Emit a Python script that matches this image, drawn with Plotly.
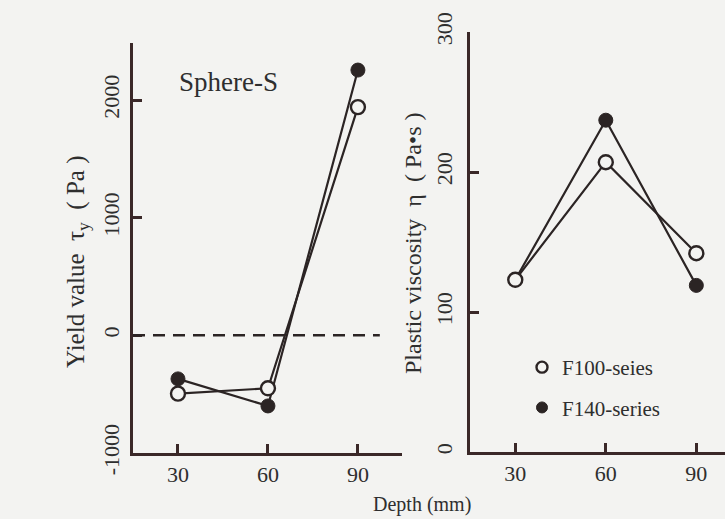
import plotly.graph_objects as go

depth = [30, 60, 90]
yield_f100 = [-495, -450, 1940]
yield_f140 = [-370, -600, 2255]
visc_f100 = [123, 207, 142]
visc_f140 = [123, 237, 119]
yield_ticks = [-1000, 0, 1000, 2000]
yield_ticktext = ["-1000", "0", "1000", "2000"]
visc_ticks = [0, 100, 200, 300]
depth_ticks = [30, 60, 90]

BG = "#f3f3f1"
INK = "#2b2424"
AX = "#3a2828"
TXT = "#2e2e2e"
FONT = "Liberation Serif, Times New Roman, serif"

W, H = 725, 519
def fx(px): return px / W
def fy(py): return 1 - py / H

fig = go.Figure()

def add_pair(xa, ya, f100, f140):
    fig.add_trace(go.Scatter(x=depth, y=f140, mode="lines+markers", xaxis=xa, yaxis=ya,
                             line=dict(color=INK, width=2.2),
                             marker=dict(symbol="circle", size=14, color=INK, line=dict(color=INK, width=1)),
                             showlegend=False))
    fig.add_trace(go.Scatter(x=depth, y=f100, mode="lines+markers", xaxis=xa, yaxis=ya,
                             line=dict(color=INK, width=2.2),
                             marker=dict(symbol="circle", size=14, color=BG, line=dict(color=INK, width=2.4)),
                             showlegend=False))

add_pair("x", "y", yield_f100, yield_f140)
add_pair("x2", "y2", visc_f100, visc_f140)

# legend proxies
fig.add_trace(go.Scatter(x=[None], y=[None], mode="markers", xaxis="x2", yaxis="y2",
                         marker=dict(symbol="circle", size=11, color=BG, line=dict(color=INK, width=2.4)),
                         name="F100-seies", legendgroup="a"))
fig.add_trace(go.Scatter(x=[None], y=[None], mode="markers", xaxis="x2", yaxis="y2",
                         marker=dict(symbol="circle", size=11, color=INK, line=dict(color=INK, width=1)),
                         name="F140-series", legendgroup="b"))

axcommon = dict(showline=True, linecolor=AX, linewidth=3, ticks="inside", ticklen=9,
                tickwidth=2.5, tickcolor=AX, showgrid=False, zeroline=False, automargin=False,
                tickfont=dict(family=FONT, size=22, color=TXT))

fig.update_layout(
    width=W, height=H, margin=dict(l=0, r=0, t=0, b=0, autoexpand=False),
    paper_bgcolor=BG, plot_bgcolor=BG,
    font=dict(family=FONT, color=TXT),
    xaxis=dict(domain=[fx(133), fx(402)], range=[15, 104.7], tickvals=depth_ticks, anchor="y",
               ticklabelstandoff=0, **axcommon),
    yaxis=dict(domain=[fy(453), fy(43)], range=[-1000, 2485], tickvals=yield_ticks, ticktext=yield_ticktext,
               tickangle=-90, anchor="x", ticklabelstandoff=2, **axcommon),
    xaxis2=dict(domain=[fx(470), 1.0], range=[15, 99.5], tickvals=depth_ticks, anchor="y2",
                ticklabelstandoff=0, **axcommon),
    yaxis2=dict(domain=[fy(452), fy(32)], range=[0, 300], tickvals=visc_ticks, tickangle=-90,
                anchor="x2", ticklabelstandoff=6, **axcommon),
    showlegend=True,
    legend=dict(x=fx(522), y=fy(347), xanchor="left", yanchor="top", bgcolor="rgba(0,0,0,0)",
                font=dict(family=FONT, size=21, color=TXT), traceorder="grouped",
                tracegroupgap=10, itemwidth=30),
)

fig.add_shape(type="line", xref="x", yref="y", x0=15, x1=97.3, y0=0, y1=0,
              line=dict(color=INK, width=2.5, dash="12px,8px"))

def ann(text, x, y, size, angle=0):
    fig.add_annotation(text=text, xref="paper", yref="paper", x=fx(x), y=fy(y),
                       xanchor="center", yanchor="middle", textangle=angle, showarrow=False,
                       font=dict(family=FONT, size=size, color=TXT))

ann("Sphere-S", 228, 82, 27)
ann("Yield value  τ<sub>y</sub>  ( Pa )", 77, 262, 25, -90)
ann("Plastic viscosity  η  ( Pa•s )", 413, 243, 24, -90)
ann("Depth (mm)", 422, 504, 20)

fig.write_html("out.html")
